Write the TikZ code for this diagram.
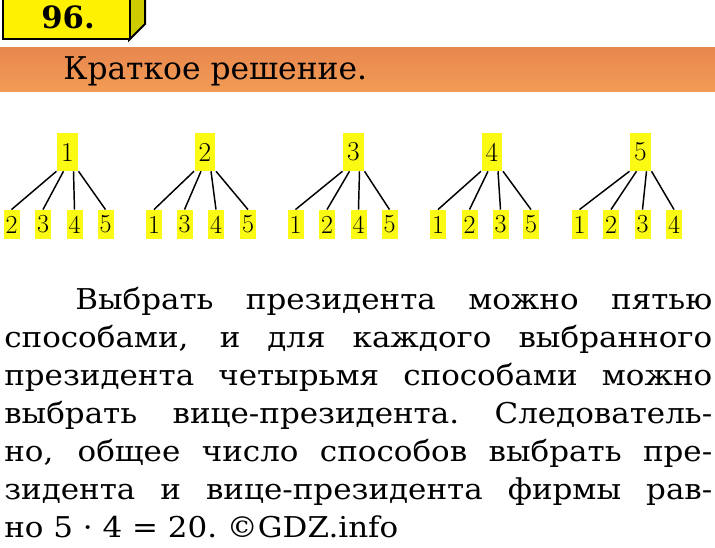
\documentclass[tikz,border=0pt]{standalone}
\usepackage{fontspec}
\newfontfamily\cyr{DejaVu Serif}
\newfontfamily\cyrwide[FakeStretch=1.08]{DejaVu Serif}
\usetikzlibrary{calc}
\definecolor{hl}{HTML}{FAFA14}
\definecolor{sidey}{HTML}{CCCC00}
\definecolor{bandtop}{HTML}{E8874E}
\definecolor{bandbot}{HTML}{F29C55}
\begin{document}
\begin{tikzpicture}[x=0.75pt,y=-0.75pt,
  rootbox/.style={fill=hl, inner sep=0pt, minimum width=15.5pt, minimum height=28.5pt, font=\fontsize{20.5}{20.5}\selectfont},
  leafbox/.style={fill=hl, inner sep=0pt, minimum width=12pt, minimum height=22pt, font=\fontsize{19.5}{19.5}\selectfont},
  edge/.style={line width=1.1pt, black},
  txt/.style={anchor=base west, inner sep=0pt, font=\cyrwide\fontsize{21.5}{21.5}\selectfont}]
\useasboundingbox (0,0) rectangle (715,548);
\fill[white] (0,0) rectangle (715,548);
% header box
\fill[sidey, draw=black, line width=1.5pt] (129,40) -- (145,24) -- (145,-2) -- (129,-2) -- cycle;
\node[draw=black, fill=yellow, line width=1.5pt, minimum width=95pt, minimum height=32pt, anchor=south west, inner sep=0pt] (hdr) at (2,40) {};
\node[font=\cyr\bfseries\fontsize{23}{23}\selectfont] (num) at (68,17) {96.};
% band
\shade[top color=bandtop, bottom color=bandbot] (0,48) rectangle (715,92);
\node[anchor=base west, inner sep=0pt, font=\cyr\fontsize{23.5}{23.5}\selectfont] (title) at (63,80) {Краткое решение.};
% trees
\foreach \i/\rx/\la/\lb/\lc/\ld/\xa/\xb/\xc/\xd in {
  1/67.5/2/3/4/5/11.5/43/74.5/105.5,
  2/205/1/3/4/5/154/184.5/216/248,
  3/353.5/1/2/4/5/295.5/327/358.5/389.5,
  4/492/1/2/3/5/438/469.5/500.5/531,
  5/640.5/1/2/3/4/579.5/611/642.5/674}{
  \node[rootbox] (r\i) at (\rx,152) {\i};
  \node[leafbox] (l\i a) at (\xa,224.5) {\la};
  \node[leafbox] (l\i b) at (\xb,224.5) {\lb};
  \node[leafbox] (l\i c) at (\xc,224.5) {\lc};
  \node[leafbox] (l\i d) at (\xd,224.5) {\ld};
  \draw[edge] ($(r\i.south)+(-11,0)$) -- (l\i a.north);
  \draw[edge] ($(r\i.south)+(-4,0)$) -- (l\i b.north);
  \draw[edge] ($(r\i.south)+(6,0)$) -- (l\i c.north);
  \draw[edge] ($(r\i.south)+(11,0)$) -- (l\i d.north);
}
% text
\node[txt] (t1) at (75,310) {\makebox[477.75pt][s]{Выбрать президента можно пятью}};
\node[txt] (t2) at (4,348) {\makebox[531pt][s]{способами, и для каждого выбранного}};
\node[txt] (t3) at (4,386) {\makebox[531pt][s]{президента четырьмя способами можно}};
\node[txt] (t4) at (4,424) {\makebox[531pt][s]{выбрать вице-президента.\ Следователь-}};
\node[txt] (t5) at (4,462) {\makebox[531pt][s]{но, общее число способов выбрать пре-}};
\node[txt] (t6) at (4,500) {\makebox[531pt][s]{зидента и вице-президента фирмы рав-}};
\node[txt] (t7) at (4,538) {но 5 · 4 = 20.\ ©GDZ.info};
\end{tikzpicture}
\end{document}
